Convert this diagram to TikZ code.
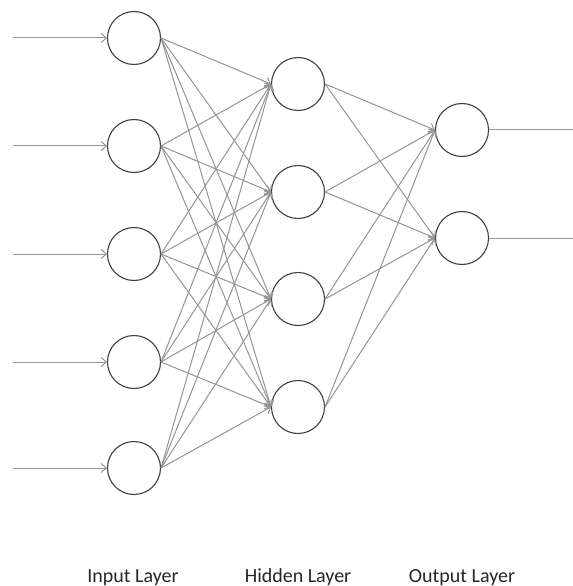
\documentclass[tikz,border=0pt]{standalone}
\usepackage{fontspec}
\setmainfont{Carlito}
\usetikzlibrary{arrows.meta}
\begin{document}
\begin{tikzpicture}[x=1bp,y=-1bp,
  neuron/.style={circle,draw=black!75,line width=1.1bp,fill=white,minimum size=53bp,inner sep=0pt},
  conn/.style={draw=black!42,line width=1bp,-{Straight Barb[length=5bp,width=9bp]}},
  plain/.style={draw=black!42,line width=1bp},
  lab/.style={font=\fontsize{20bp}{22bp}\selectfont,text=black!85,anchor=base}]
\useasboundingbox (0,0) rectangle (573,586);
\foreach \i/\y in {1/38,2/146,3/254,4/362,5/468}{
  \node[neuron] (i\i) at (134,\y) {};
  \coordinate (s\i) at (13,\y);
  \draw[conn] (s\i) -- (i\i.west);
}
\foreach \j/\y in {1/84,2/192,3/299,4/407}{
  \node[neuron] (h\j) at (298,\y) {};
}
\foreach \k/\y in {1/130,2/238}{
  \node[neuron] (o\k) at (462,\y) {};
  \coordinate (e\k) at (573,\y);
  \draw[plain] (o\k.east) -- (e\k);
}
\foreach \i in {1,...,5}{
  \foreach \j in {1,...,4}{
    \draw[conn] (i\i.east) -- (h\j.west);
  }
}
\foreach \j in {1,...,4}{
  \foreach \k in {1,2}{
    \draw[conn] (h\j.east) -- (o\k.west);
  }
}
\node[lab] (l1) at (133,582) {Input Layer};
\node[lab] (l2) at (298,582) {Hidden Layer};
\node[lab] (l3) at (462,582) {Output Layer};
\end{tikzpicture}
\end{document}
